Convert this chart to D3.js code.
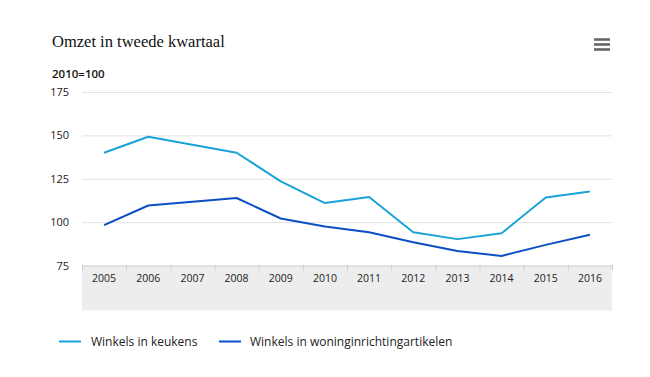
<!DOCTYPE html>
<html><head><meta charset="utf-8">
<script src="https://cdn.jsdelivr.net/npm/d3@7"></script>
<style>body{margin:0;background:#fff;}svg{display:block;}</style>
</head><body>
<script>
const years = ["2005","2006","2007","2008","2009","2010","2011","2012","2013","2014","2015","2016"];
const keukens = [140, 149.2, 144.6, 140, 123.5, 111, 114.5, 94.2, 90.2, 93.6, 114.2, 117.7];
const woning = [98.3, 109.6, 111.7, 113.9, 102.1, 97.5, 94.2, 88.4, 83.4, 80.5, 86.9, 92.7];
const yTicks = [75, 100, 125, 150, 175];
const seriesNames = ["Winkels in keukens", "Winkels in woninginrichtingartikelen"];
const colors = ["#1aa3d8", "#0b4fc2"];

(function () {
const W = 650, H = 377;
const svg = d3.select("body").append("svg").attr("width", W).attr("height", H);
const pL = 82, pR = 612, pT = 92, pB = 265.5;
const x = d3.scaleBand().domain(years).range([pL, pR]);
const y = d3.scaleLinear().domain([75, 175]).range([pB, pT]);
const font = "'Open Sans', Lato, sans-serif";

// title
svg.append("text").attr("x", 52).attr("y", 47).text("Omzet in tweede kwartaal")
  .attr("font-family", "'Liberation Serif', serif").attr("font-size", 16.5).attr("fill", "#111");
svg.append("text").attr("x", 52).attr("y", 78).text("2010=100")
  .attr("font-family", font).attr("font-size", 11.5).attr("font-weight", 600).attr("fill", "#111");

// menu icon
[39.5, 44.5, 49.5].forEach(yy => svg.append("line").attr("x1", 594).attr("x2", 610).attr("y1", yy).attr("y2", yy)
  .attr("stroke", "#666").attr("stroke-width", 2.6));

// gray band
svg.append("rect").attr("x", pL).attr("y", pB).attr("width", pR - pL).attr("height", 45).attr("fill", "#ededed");

// gridlines
svg.append("g").selectAll("line").data(yTicks.slice(1)).join("line")
  .attr("x1", pL).attr("x2", pR).attr("y1", d => y(d) + 0.5).attr("y2", d => y(d) + 0.5)
  .attr("stroke", "#e3e3e3").attr("stroke-width", 1);

// y labels
const yAxis = svg.append("g").attr("transform", `translate(${pL},0)`)
  .call(d3.axisLeft(y).tickValues(yTicks).tickSize(0).tickPadding(13));
yAxis.select(".domain").remove();
yAxis.selectAll("text").attr("font-family", font).attr("font-size", 11).attr("fill", "#222");

// x axis
const xAxis = svg.append("g").attr("transform", `translate(0,${pB})`)
  .call(d3.axisBottom(x).tickSize(0).tickPadding(9));
xAxis.select(".domain").attr("stroke", "#cfcfcf");
xAxis.selectAll("text").attr("font-family", font).attr("font-size", 10.5).attr("fill", "#222");
// boundary ticks
svg.append("g").selectAll("line").data(years.concat(["end"])).join("line")
  .attr("x1", (d, i) => pL + i * x.step() + 0.5).attr("x2", (d, i) => pL + i * x.step() + 0.5)
  .attr("y1", pB - 1).attr("y2", pB + 5).attr("stroke", "#cfcfcf");

// lines
const line = d3.line().x((d, i) => x(years[i]) + x.bandwidth() / 2).y(d => y(d));
[keukens, woning].forEach((s, i) => svg.append("path").datum(s).attr("d", line)
  .attr("fill", "none").attr("stroke", colors[i]).attr("stroke-width", 2).attr("stroke-linejoin", "round"));

// legend
const lx = [59, 219], tx = [91, 250];
seriesNames.forEach((n, i) => {
  svg.append("line").attr("x1", lx[i]).attr("x2", lx[i] + 22).attr("y1", 341.5).attr("y2", 341.5)
    .attr("stroke", colors[i]).attr("stroke-width", 2);
  svg.append("text").attr("x", tx[i]).attr("y", 345.5).text(n)
    .attr("font-family", font).attr("font-size", 12).attr("fill", "#222");
});
})();
</script>
</body></html>
